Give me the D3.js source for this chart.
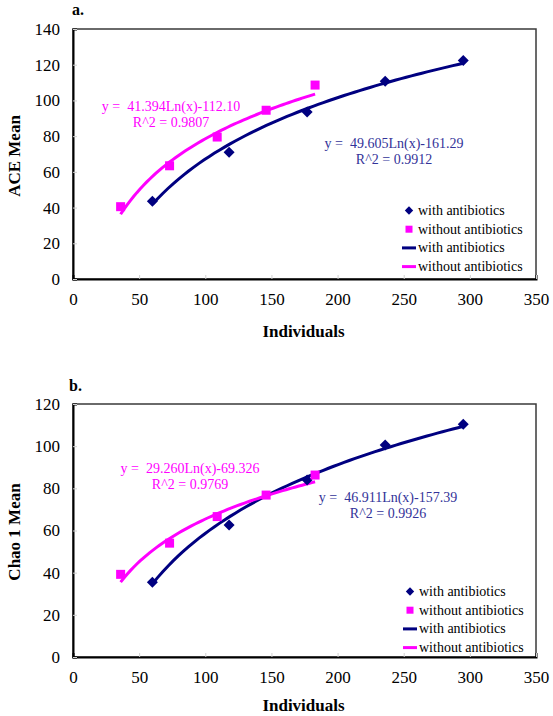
<!DOCTYPE html>
<html>
<head>
<meta charset="utf-8">
<script src="https://cdn.jsdelivr.net/npm/d3@7"></script>
<style>
  body { margin: 0; background: #fff; }
  svg, svg text { font-family: "Liberation Serif", "Times New Roman", serif !important; }
</style>
</head>
<body>
<svg id="chart" width="553" height="716"></svg>
<script>
// ---- data ----
const seriesNames = ["with antibiotics", "without antibiotics"];
const withX = [60, 118, 177, 236, 295];
const withoutX = [36, 73, 109, 146, 183];

// Panel a: ACE Mean
const aceWith = [43.5, 71, 93.5, 110.7, 122.3];
const aceWithout = [40.5, 63.4, 79.5, 94.5, 108.6];
const aceFitWith = [49.605, -161.29];
const aceFitWithout = [41.394, -112.10];
const aceEqWith = ["y =  49.605Ln(x)-161.29", "R^2 = 0.9912"];
const aceEqWithout = ["y =  41.394Ln(x)-112.10", "R^2 = 0.9807"];
const aceYTicks = [0, 20, 40, 60, 80, 100, 120, 140];

// Panel b: Chao 1 Mean
const chaoWith = [35.5, 62.6, 84, 100.6, 110.4];
const chaoWithout = [39.2, 54, 66.6, 76.8, 86.3];
const chaoFitWith = [46.911, -157.39];
const chaoFitWithout = [29.260, -69.326];
const chaoEqWith = ["y =  46.911Ln(x)-157.39", "R^2 = 0.9926"];
const chaoEqWithout = ["y =  29.260Ln(x)-69.326", "R^2 = 0.9769"];
const chaoYTicks = [0, 20, 40, 60, 80, 100, 120];

const xTicks = [0, 50, 100, 150, 200, 250, 300, 350];

const NAVY = "#000080", MAG = "#FF00FF", NAVY_TXT = "#333399";
const svg = d3.select("#chart");

function diamondPath(r) {
  return `M0,${-r}L${r},0L0,${r}L${-r},0Z`;
}

function panel(cfg) {
  const g = svg.append("g");
  const x = d3.scaleLinear().domain([0, 350]).range([cfg.left, cfg.right]);
  const y = d3.scaleLinear().domain([0, cfg.ymax]).range([cfg.bottom, cfg.top]);

  // plot border (top/right)
  g.append("rect").attr("x", cfg.left).attr("y", cfg.top)
    .attr("width", cfg.right - cfg.left).attr("height", cfg.bottom - cfg.top)
    .attr("fill", "none").attr("stroke", "#3a3a3a").attr("stroke-width", 1.5);

  // axes
  const xAxis = d3.axisBottom(x).tickValues(xTicks).tickSize(-4).tickPadding(14);
  const gx = g.append("g").attr("transform", `translate(0,${cfg.bottom})`).call(xAxis);
  const yAxis = d3.axisLeft(y).tickValues(cfg.yTicks).tickSize(-4).tickPadding(13);
  const gy = g.append("g").attr("transform", `translate(${cfg.left},0)`).call(yAxis);
  [gx, gy].forEach(a => {
    a.attr("font-family", null).attr("font-size", null);
    a.select(".domain").attr("stroke", "#000").attr("stroke-width", 2);
    a.selectAll(".tick line").attr("stroke", "#d0d0d0");
    a.selectAll(".tick text").style("font-size", "17px").attr("fill", "#000");
  });

  // panel letter
  g.append("text").attr("x", cfg.letterX).attr("y", cfg.letterY).text(cfg.letter)
    .style("font-size", "16px").attr("font-weight", "bold");

  // axis titles
  g.append("text").attr("x", (cfg.left + cfg.right) / 2 - 1).attr("y", cfg.xTitleY)
    .attr("text-anchor", "middle").style("font-size", "17px").attr("font-weight", "bold")
    .text("Individuals");
  g.append("text").attr("transform", `translate(20,${cfg.yTitleC}) rotate(-90)`)
    .attr("text-anchor", "middle").style("font-size", "17px").attr("font-weight", "bold")
    .text(cfg.yTitle);

  // trendlines from displayed equations
  const line = d3.line().x(d => x(d[0])).y(d => y(d[1]));
  function fit(xs, coef) {
    const lo = d3.min(xs), hi = d3.max(xs);
    return d3.range(0, 61).map(i => {
      const xv = lo + (hi - lo) * i / 60;
      return [xv, coef[0] * Math.log(xv) + coef[1]];
    });
  }
  g.append("path").attr("d", line(fit(withX, cfg.fitWith)))
    .attr("fill", "none").attr("stroke", NAVY).attr("stroke-width", 3);
  g.append("path").attr("d", line(fit(withoutX, cfg.fitWithout)))
    .attr("fill", "none").attr("stroke", MAG).attr("stroke-width", 3);

  // markers
  g.selectAll(null).data(withX.map((v, i) => [v, cfg.with[i]])).join("path")
    .attr("d", diamondPath(5.5)).attr("transform", d => `translate(${x(d[0])},${y(d[1])})`)
    .attr("fill", NAVY);
  g.selectAll(null).data(withoutX.map((v, i) => [v, cfg.without[i]])).join("rect")
    .attr("x", d => x(d[0]) - 4.5).attr("y", d => y(d[1]) - 4.5)
    .attr("width", 9).attr("height", 9).attr("fill", MAG);

  // equations
  function eq(lines, cx, by, color) {
    lines.forEach((t, i) => {
      g.append("text").attr("x", cx).attr("y", by + i * 16).attr("text-anchor", "middle")
        .style("font-size", "14px").style("white-space", "pre").attr("fill", color).text(t);
    });
  }
  eq(cfg.eqWithout, cfg.eqWithoutPos[0], cfg.eqWithoutPos[1], MAG);
  eq(cfg.eqWith, cfg.eqWithPos[0], cfg.eqWithPos[1], NAVY_TXT);

  // legend
  const lx = cfg.legendX, ly = cfg.legendY, step = 18.7;
  const items = [
    {type: "diamond", color: NAVY, label: seriesNames[0]},
    {type: "square", color: MAG, label: seriesNames[1]},
    {type: "line", color: NAVY, label: seriesNames[0]},
    {type: "line", color: MAG, label: seriesNames[1]}
  ];
  items.forEach((it, i) => {
    const cy = ly + i * step;
    if (it.type === "diamond") {
      g.append("path").attr("d", diamondPath(4.2))
        .attr("transform", `translate(${lx + 7},${cy})`).attr("fill", it.color);
    } else if (it.type === "square") {
      g.append("rect").attr("x", lx + 3.5).attr("y", cy - 3.5).attr("width", 7).attr("height", 7)
        .attr("fill", it.color);
    } else {
      g.append("line").attr("x1", lx).attr("x2", lx + 14).attr("y1", cy).attr("y2", cy)
        .attr("stroke", it.color).attr("stroke-width", 3);
    }
    g.append("text").attr("x", lx + 16).attr("y", cy + 4.5).style("font-size", "14px")
      .attr("fill", "#000").text(it.label);
  });
}

panel({
  left: 73, right: 536, top: 29, bottom: 279, ymax: 140, yTicks: aceYTicks,
  with: aceWith, without: aceWithout, fitWith: aceFitWith, fitWithout: aceFitWithout,
  eqWith: aceEqWith, eqWithout: aceEqWithout,
  eqWithPos: [394, 147.5], eqWithoutPos: [171, 111],
  letter: "a.", letterX: 72, letterY: 15, xTitleY: 337, yTitle: "ACE Mean", yTitleC: 156,
  legendX: 402, legendY: 210.5
});

panel({
  left: 73, right: 536, top: 404, bottom: 657, ymax: 120, yTicks: chaoYTicks,
  with: chaoWith, without: chaoWithout, fitWith: chaoFitWith, fitWithout: chaoFitWithout,
  eqWith: chaoEqWith, eqWithout: chaoEqWithout,
  eqWithPos: [388, 502], eqWithoutPos: [190, 473],
  letter: "b.", letterX: 69, letterY: 391, xTitleY: 711, yTitle: "Chao 1 Mean", yTitleC: 532,
  legendX: 403, legendY: 591.5
});
</script>
</body>
</html>
